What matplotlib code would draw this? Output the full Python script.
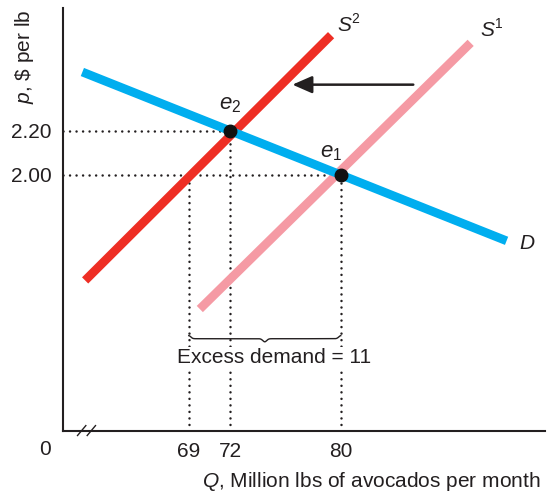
import matplotlib.pyplot as plt
from matplotlib.patches import FancyArrowPatch
import numpy as np

plt.rcParams['font.family'] = ['Liberation Sans', 'DejaVu Sans']
plt.rcParams['mathtext.fontset'] = 'custom'
plt.rcParams['mathtext.rm'] = 'Liberation Sans'
plt.rcParams['mathtext.it'] = 'Liberation Sans:italic'
plt.rcParams['text.color'] = '#231F20'

# equilibrium data
q_ticks = [69, 72, 80]
p_ticks = [2.00, 2.20]
p_labels = ["2.00", "2.20"]

# demand D: endpoints
d_q = [61.3, 92.0]
d_p = [2.4675, 1.70]
# original supply S1
s1_q = [69.8, 89.4]
s1_p = [1.39, 2.60]
# new supply S2
s2_q = [61.5, 79.3]
s2_p = [1.52, 2.635]

e1 = (80, 2.00)
e2 = (72, 2.20)
excess = 11

fig = plt.figure(figsize=(5.48, 4.93), dpi=100)
ax = fig.add_axes([0.115, 0.126, 0.88, 0.858])
ax.set_xlim(59.9, 94.8)
ax.set_ylim(0.836, 2.759)

for s in ["top", "right"]:
    ax.spines[s].set_visible(False)
ax.spines["left"].set_linewidth(1.5)
ax.spines["bottom"].set_linewidth(1.5)
ax.spines["left"].set_color("#231F20")
ax.spines["bottom"].set_color("#231F20")

dot_style = dict(color="#231F20", linestyle=(0, (0.01, 2.6)), linewidth=1.8, dash_capstyle="round")
# dotted guides
x0, y0 = ax.get_xlim()[0], ax.get_ylim()[0]
ax.plot([x0, e2[0]], [e2[1], e2[1]], **dot_style)
ax.plot([x0, e1[0]], [e1[1], e1[1]], **dot_style)
ax.plot([q_ticks[0], q_ticks[0]], [y0, 2.00], **dot_style)
ax.plot([e2[0], e2[0]], [y0, e2[1]], **dot_style)
ax.plot([e1[0], e1[0]], [y0, e1[1]], **dot_style)

ax.plot(s1_q, s1_p, color="#F59AA4", linewidth=6.3, solid_capstyle="butt")
ax.plot(s2_q, s2_p, color="#EE2E24", linewidth=6.3, solid_capstyle="butt")
ax.plot(d_q, d_p, color="#00AEEF", linewidth=6.3, solid_capstyle="butt")

ax.plot([e1[0], e2[0]], [e1[1], e2[1]], "o", color="#111111", markersize=9, zorder=5)

# shift arrow
ax.add_patch(FancyArrowPatch((85.45, 2.41), (76.3, 2.41), arrowstyle="-|>,head_length=8,head_width=3.5",
                             color="#231F20", linewidth=1.8, mutation_scale=1.5))

# brace for excess demand
bq = np.linspace(69, 80, 300)
mid = (69 + 80) / 2
w = 0.014
yb = 1.255
brace = yb + w * (np.exp(-((bq - 69) / 0.2) ** 2) + np.exp(-((bq - 80) / 0.2) ** 2)) \
    - w * np.exp(-((bq - mid) / 0.2) ** 2)
ax.plot(bq, brace, color="#231F20", linewidth=1.0)
ax.text(75.2, 1.168, f"Excess demand = {excess}", ha="center", va="center", fontsize=15,
        bbox=dict(facecolor="white", edgecolor="none", pad=1), zorder=6)

# curve labels
ax.text(79.7, 2.68, "$S$", fontsize=15, ha="left", va="center")
ax.text(80.75, 2.71, "2", fontsize=10, ha="left", va="center")
ax.text(90.1, 2.655, "$S$", fontsize=15, ha="left", va="center")
ax.text(91.15, 2.685, "1", fontsize=10, ha="left", va="center")
ax.text(92.9, 1.69, "$D$", fontsize=15, ha="left", va="center")
ax.text(72.0, 2.32, "$e_2$", fontsize=16, ha="center", va="center")
ax.text(79.3, 2.10, "$e_1$", fontsize=16, ha="center", va="center")

ax.set_xticks(q_ticks)
ax.set_xticklabels([str(q) for q in q_ticks], fontsize=15)
ax.set_yticks(p_ticks)
ax.set_yticklabels(p_labels, fontsize=15)
ax.tick_params(length=0, pad=8, labelcolor="#231F20")
ax.text(-0.037, -0.045, "0", transform=ax.transAxes, fontsize=15, ha="center", va="center")

# axis break
for xb in [61.25, 61.95]:
    ax.plot([xb - 0.3, xb + 0.3], [0.815, 0.86], color="#231F20", linewidth=1.0, clip_on=False)

ax.text(0.99, -0.12, "$Q$, Million lbs of avocados per month", transform=ax.transAxes,
        fontsize=15, ha="right", va="center")
ax.text(-0.08, 0.995, "$p$, \\$ per lb", transform=ax.transAxes, fontsize=15, rotation=90,
        ha="center", va="top")

fig.savefig("out.png", dpi=100)
